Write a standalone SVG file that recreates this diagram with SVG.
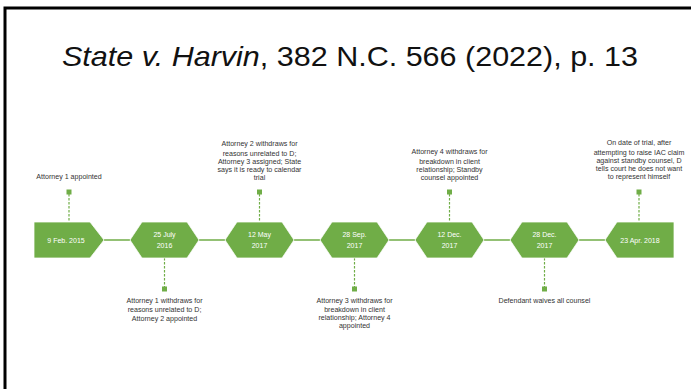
<svg xmlns="http://www.w3.org/2000/svg" width="691" height="389" viewBox="0 0 691 389">
<style>
.shape{fill:#70AD47;stroke:#ffffff;stroke-width:0.75}
.date{font-family:"Liberation Sans",Arial,sans-serif;font-size:7px;fill:#ffffff;text-anchor:middle}
.lbl{font-family:"Liberation Sans",Arial,sans-serif;font-size:7.1px;fill:#333333;text-anchor:middle}
.line{stroke:#70AD47;stroke-width:1.5;fill:none}
.dash{stroke:#70AD47;stroke-width:1.2;stroke-dasharray:2.5,1.5;fill:none}
.dot{fill:#70AD47}
</style>
<rect x="0" y="0" width="691" height="389" fill="#ffffff"/>
<path d="M5,389 V8 H691" fill="none" stroke="#000000" stroke-width="3"/>
<text x="350" y="66" font-family="'Liberation Sans',Arial,sans-serif" font-size="28" fill="#111111" text-anchor="middle" textLength="576" lengthAdjust="spacingAndGlyphs"><tspan font-style="italic">State v. Harvin</tspan>, 382 N.C. 566 (2022), p. 13</text>
<g id="connectors">
<line class="line" x1="104" y1="240" x2="130" y2="240"/>
<line class="line" x1="199" y1="240" x2="225" y2="240"/>
<line class="line" x1="294" y1="240" x2="320" y2="240"/>
<line class="line" x1="389" y1="240" x2="415" y2="240"/>
<line class="line" x1="484" y1="240" x2="510" y2="240"/>
<line class="line" x1="579" y1="240" x2="605" y2="240"/>
<line class="dash" x1="69" y1="194" x2="69" y2="222"/>
<line class="dash" x1="164.5" y1="258" x2="164.5" y2="287"/>
<line class="dash" x1="259.5" y1="194" x2="259.5" y2="222"/>
<line class="dash" x1="354.5" y1="258" x2="354.5" y2="287"/>
<line class="dash" x1="449.5" y1="194" x2="449.5" y2="222"/>
<line class="dash" x1="544.5" y1="258" x2="544.5" y2="287"/>
<line class="dash" x1="639" y1="194" x2="639" y2="222"/>
<rect class="dot" x="66.5" y="189.5" width="5" height="5"/>
<rect class="dot" x="162" y="286.5" width="5" height="5"/>
<rect class="dot" x="257" y="189.5" width="5" height="5"/>
<rect class="dot" x="352" y="286.5" width="5" height="5"/>
<rect class="dot" x="447" y="189.5" width="5" height="5"/>
<rect class="dot" x="542" y="286.5" width="5" height="5"/>
<rect class="dot" x="636.5" y="189.5" width="5" height="5"/>
</g>
<g id="n1">
<polygon class="shape" points="34,222 90,222 104,240 90,258 34,258"/>
<text class="date" x="66" y="242.5">9 Feb. 2015</text>
<text class="lbl" x="69" y="179">Attorney 1 appointed</text>
</g>
<g id="n2">
<polygon class="shape" points="130,240 142,222 187,222 199,240 187,258 142,258"/>
<text class="date" x="164.5" y="237">25 July</text>
<text class="date" x="164.5" y="248">2016</text>
<text class="lbl" x="164.5" y="302.5">Attorney 1 withdraws for</text>
<text class="lbl" x="164.5" y="312">reasons unrelated to D;</text>
<text class="lbl" x="164.5" y="320.5">Attorney 2 appointed</text>
</g>
<g id="n3">
<polygon class="shape" points="225,240 237,222 282,222 294,240 282,258 237,258"/>
<text class="date" x="259.5" y="237">12 May</text>
<text class="date" x="259.5" y="248">2017</text>
<text class="lbl" x="259.5" y="145.5">Attorney 2 withdraws for</text>
<text class="lbl" x="259.5" y="155.5">reasons unrelated to D;</text>
<text class="lbl" x="259.5" y="163.5">Attorney 3 assigned; State</text>
<text class="lbl" x="259.5" y="171.5">says it is ready to calendar</text>
<text class="lbl" x="259.5" y="179.5">trial</text>
</g>
<g id="n4">
<polygon class="shape" points="320,240 332,222 377,222 389,240 377,258 332,258"/>
<text class="date" x="354.5" y="237">28 Sep.</text>
<text class="date" x="354.5" y="248">2017</text>
<text class="lbl" x="354.5" y="302.5">Attorney 3 withdraws for</text>
<text class="lbl" x="354.5" y="312">breakdown in client</text>
<text class="lbl" x="354.5" y="320">relationship; Attorney 4</text>
<text class="lbl" x="354.5" y="328">appointed</text>
</g>
<g id="n5">
<polygon class="shape" points="415,240 427,222 472,222 484,240 472,258 427,258"/>
<text class="date" x="449.5" y="237">12 Dec.</text>
<text class="date" x="449.5" y="248">2017</text>
<text class="lbl" x="449.5" y="153.5">Attorney 4 withdraws for</text>
<text class="lbl" x="449.5" y="163.5">breakdown in client</text>
<text class="lbl" x="449.5" y="171.5">relationship; Standby</text>
<text class="lbl" x="449.5" y="179.5">counsel appointed</text>
</g>
<g id="n6">
<polygon class="shape" points="510,240 522,222 567,222 579,240 567,258 522,258"/>
<text class="date" x="544.5" y="237">28 Dec.</text>
<text class="date" x="544.5" y="248">2017</text>
<text class="lbl" x="544.5" y="302.5">Defendant waives all counsel</text>
</g>
<g id="n7">
<polygon class="shape" points="605,240 617,222 674,222 674,258 617,258"/>
<text class="date" x="640" y="242.5">23 Apr. 2018</text>
<text class="lbl" x="639" y="144.5">On date of trial, after</text>
<text class="lbl" x="639" y="155">attempting to raise IAC claim</text>
<text class="lbl" x="639" y="163">against standby counsel, D</text>
<text class="lbl" x="639" y="171">tells court he does not want</text>
<text class="lbl" x="639" y="179">to represent himself</text>
</g>
</svg>
